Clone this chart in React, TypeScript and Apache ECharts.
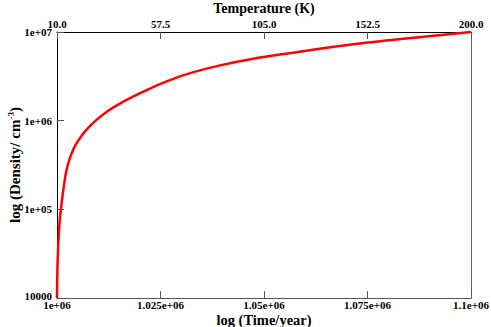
import React, { useEffect, useRef } from "react";
import * as echarts from "echarts";

const timeYears = [
  1000000, 1000150, 1000550, 1001000, 1001600, 1002400, 1004000, 1006400, 1008800,
  1012100, 1015300, 1020100, 1025000, 1031400, 1039400, 1047400, 1057000, 1064300,
  1075000, 1088500, 1100000,
];
const density = [
  1.0e4, 2.6e4, 6.4e4, 1.05e5, 1.75e5, 2.9e5, 4.8e5, 7.2e5, 9.5e5,
  1.27e6, 1.57e6, 2.04e6, 2.6e6, 3.35e6, 4.2e6, 5.0e6, 5.85e6, 6.55e6,
  7.6e6, 8.85e6, 1.0e7,
];
const timeTickLabels = ["1e+06", "1.025e+06", "1.05e+06", "1.075e+06", "1.1e+06"];
const tempTickLabels = ["10.0", "57.5", "105.0", "152.5", "200.0"];
const densityTickLabels = ["10000", "1e+05", "1e+06", "1e+07"];

const FONT = "Liberation Serif";

export default function App() {
  const ref = useRef<HTMLDivElement>(null);
  useEffect(() => {
    if (!ref.current) return;
    const chart = echarts.init(ref.current, null, { renderer: "svg" });
    const tBase = { color: "#000", fontFamily: FONT, fontWeight: "bold" as const, fontSize: 11 };
    const tickRich = {
      t: { ...tBase },
      b: { ...tBase, padding: [0, 0, 5, 0] },
    };
    const labelStyle = {
      color: "#000",
      fontFamily: FONT,
      fontWeight: "bold" as const,
      fontSize: 11,
      rich: tickRich,
    };
    const nameStyle = {
      color: "#000",
      fontFamily: FONT,
      fontWeight: "bold" as const,
      fontSize: 15,
    };
    chart.setOption({
      animation: false,
      backgroundColor: "#fff",
      textStyle: { fontFamily: FONT, fontWeight: "bold" },
      grid: {
        left: 57,
        right: 20,
        top: 32,
        bottom: 29,
        containLabel: false,
        outerBoundsMode: "none",
      },
      xAxis: [
        {
          type: "value",
          position: "bottom",
          min: 1000000,
          max: 1100000,
          interval: 25000,
          name: "log (Time/year)",
          nameLocation: "middle",
          nameGap: 14,
          nameMoveOverlap: false,
          nameTextStyle: { ...nameStyle, fontSize: 14.5 },
          axisLine: { show: true, lineStyle: { color: "#555", width: 1 } },
          axisTick: { show: true, inside: true, length: 7, lineStyle: { color: "#555" } },
          axisLabel: {
            ...labelStyle,
            margin: 1,
            formatter: (v: number) =>
              "{t|" + (timeTickLabels[Math.round((v - 1000000) / 25000)] ?? "") + "}",
          },
          splitLine: { show: false },
        },
        {
          type: "value",
          position: "top",
          min: 0,
          max: 4,
          interval: 1,
          name: "Temperature (K)",
          nameLocation: "middle",
          nameGap: 17,
          nameMoveOverlap: false,
          nameTextStyle: { ...nameStyle, fontSize: 14 },
          axisLine: { show: true, lineStyle: { color: "#000", width: 1 } },
          axisTick: { show: true, inside: true, length: 7, lineStyle: { color: "#555" } },
          axisLabel: {
            ...labelStyle,
            margin: 3,
            formatter: (v: number) => "{t|" + (tempTickLabels[Math.round(v)] ?? "") + "}",
          },
          splitLine: { show: false },
        },
      ],
      yAxis: [
        {
          type: "log",
          logBase: 10,
          position: "left",
          min: 10000,
          max: 10000000,
          name: "{a|log (Density/ cm}{s|-3}{a|)}",
          nameLocation: "middle",
          nameRotate: 90,
          nameGap: 33,
          nameMoveOverlap: false,
          nameTextStyle: {
            rich: {
              a: { ...nameStyle, fontSize: 15, lineHeight: 18 },
              s: { ...nameStyle, fontSize: 9, verticalAlign: "top", lineHeight: 18, padding: [0, 0, 8, 0] },
            },
          },
          axisLine: { show: true, lineStyle: { color: "#000", width: 1 } },
          axisTick: { show: true, inside: true, length: 7, lineStyle: { color: "#555" } },
          minorTick: { show: false },
          axisLabel: {
            ...labelStyle,
            margin: 5,
            formatter: (v: number) => {
              const i = Math.round(Math.log10(v)) - 4;
              return "{" + (i === 0 ? "b" : "t") + "|" + (densityTickLabels[i] ?? "") + "}";
            },
          },
          splitLine: { show: false },
        },
        {
          type: "log",
          logBase: 10,
          position: "right",
          min: 10000,
          max: 10000000,
          axisLine: { show: true, lineStyle: { color: "#666", width: 1 } },
          axisTick: { show: false },
          axisLabel: { show: false },
          splitLine: { show: false },
        },
      ],
      series: [
        {
          type: "line",
          xAxisIndex: 0,
          yAxisIndex: 0,
          data: timeYears.map((t, i) => [t, density[i]]),
          smooth: 0.3,
          symbol: "none",
          lineStyle: { color: "#ff0000", width: 2.5 },
        },
      ],
    });
    return () => chart.dispose();
  }, []);
  return (
    <div
      ref={ref}
      style={{ position: "fixed", left: 0, top: 0, width: 491, height: 327 }}
    />
  );
}
